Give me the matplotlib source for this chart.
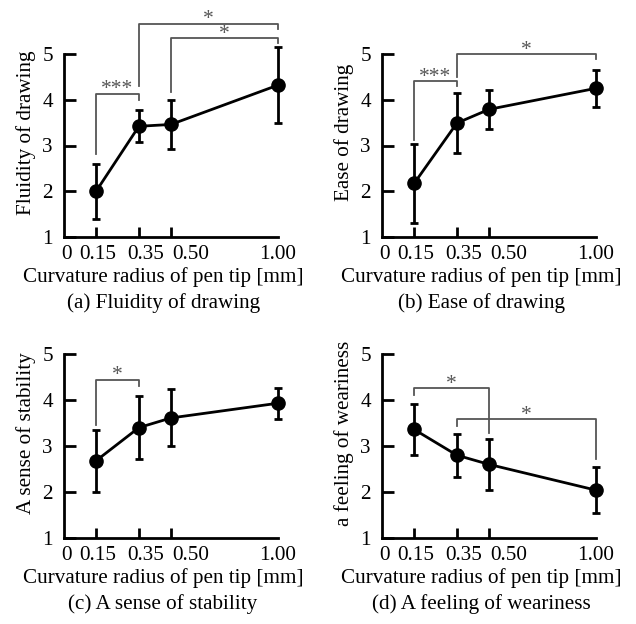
import matplotlib
matplotlib.use("Agg")
import matplotlib.pyplot as plt

plt.rcParams['font.family'] = ['Liberation Serif', 'DejaVu Serif']

# ---- data ----
radius = [0.15, 0.35, 0.50, 1.00]
xtick_labels = ["0", "0.15", "0.35", "0.50", "1.00"]
ytick_values = [1, 2, 3, 4, 5]

fluidity = [2.00, 3.42, 3.46, 4.32]
fluidity_err = [0.60, 0.35, 0.53, 0.83]
ease = [2.17, 3.49, 3.79, 4.25]
ease_err = [0.86, 0.65, 0.42, 0.41]
stability = [2.68, 3.40, 3.61, 3.93]
stability_err = [0.67, 0.68, 0.62, 0.34]
weariness = [3.36, 2.80, 2.60, 2.04]
weariness_err = [0.55, 0.47, 0.56, 0.50]

ylabels = ["Fluidity of drawing", "Ease of drawing",
           "A sense of stability", "a feeling of weariness"]
captions = ["(a) Fluidity of drawing", "(b) Ease of drawing",
            "(c) A sense of stability", "(d) A feeling of weariness"]
xlabel = "Curvature radius of pen tip [mm]"

# significance brackets: (x_left, x_right, y_bar, y_left_end, y_right_end, label)
brackets_a = [(0.15, 0.35, 4.13, 2.81, 4.00, "***"),
              (0.35, 1.00, 5.66, 4.30, 5.55, "*"),
              (0.50, 1.00, 5.35, 4.17, 5.24, "*")]
brackets_b = [(0.15, 0.35, 4.41, 3.12, 4.30, "***"),
              (0.35, 1.00, 5.00, 4.50, 4.89, "*")]
brackets_c = [(0.15, 0.35, 4.44, 3.46, 4.30, "*")]
brackets_d = [(0.15, 0.50, 4.26, 4.11, 3.28, "*"),
              (0.35, 1.00, 3.59, 3.43, 2.72, "*")]

series = [(fluidity, fluidity_err, brackets_a),
          (ease, ease_err, brackets_b),
          (stability, stability_err, brackets_c),
          (weariness, weariness_err, brackets_d)]

# ---- layout ----
W, H = 636, 624
fig = plt.figure(figsize=(W / 100, H / 100), dpi=100)

ax_w = 214 / W
rects = [
    (64 / W, 1 - 237 / H, ax_w, 183 / H),
    (382 / W, 1 - 237 / H, ax_w, 183 / H),
    (64 / W, 1 - 538 / H, ax_w, 184 / H),
    (382 / W, 1 - 538 / H, ax_w, 184 / H),
]
# label positions along x (shifted slightly as in the original)
xtick_label_pos = [0.014, 0.16, 0.38, 0.59, 1.0]

FS = 15.2
for i, (vals, errs, brs) in enumerate(series):
    ax = fig.add_axes(rects[i])
    ax.set_xlim(0, 1.0)
    ax.set_ylim(1, 5)
    for s in ("top", "right"):
        ax.spines[s].set_visible(False)
    for s in ("left", "bottom"):
        ax.spines[s].set_linewidth(2.0)

    ax.errorbar(radius, vals, yerr=errs, color="black", lw=2.0,
                elinewidth=2.0, capsize=3.0, capthick=2.0,
                marker="o", markersize=9.5, clip_on=False, zorder=3)

    # tick marks at the data positions, labels at their own positions
    ax.set_xticks(radius, minor=True)
    ax.tick_params(axis="x", which="minor", direction="in", length=7.5,
                   width=2.0, labelbottom=False)
    ax.set_xticks(xtick_label_pos)
    ax.set_xticklabels(xtick_labels, fontsize=FS)
    ax.tick_params(axis="x", which="major", length=0, pad=5.5)

    ax.set_yticks(ytick_values)
    ax.set_yticklabels([str(v) for v in ytick_values], fontsize=FS)
    ax.tick_params(axis="y", direction="in", length=8.5, width=2.0, pad=8)

    ax.text(-0.178, 0.571, ylabels[i], rotation=90, ha="center", va="center",
            fontsize=FS, transform=ax.transAxes)
    ax.annotate(xlabel, xy=(0.463, 0), xycoords="axes fraction",
                xytext=(0, -29), textcoords="offset points",
                ha="center", va="center", fontsize=FS)
    ax.annotate(captions[i], xy=(0.463, 0), xycoords="axes fraction",
                xytext=(0, -47.5), textcoords="offset points",
                ha="center", va="center", fontsize=FS)

    for (x1, x2, yb, yl, yr, lab) in brs:
        ax.plot([x1, x1, x2, x2], [yl, yb, yb, yr], color="#555555",
                lw=1.3, clip_on=False, zorder=2)
        ax.annotate(lab, xy=((x1 + x2) / 2, yb), xycoords="data",
                    xytext=(0, -0.5), textcoords="offset points",
                    ha="center", va="baseline", fontsize=15.5,
                    color="#555555", annotation_clip=False)

fig.savefig("out.png", dpi=100)
